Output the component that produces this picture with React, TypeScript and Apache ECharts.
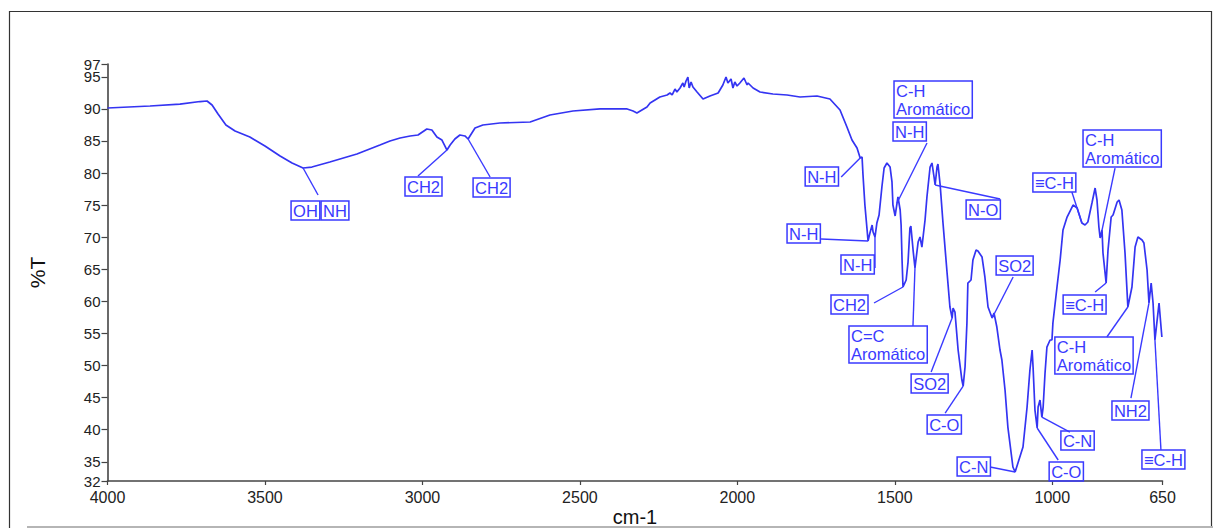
import React, { useEffect, useRef } from 'react';
import * as echarts from 'echarts';

// FTIR spectrum: wavenumber (cm-1) and transmittance (%T)
const wavenumber = [
  4000, 3865, 3770, 3706, 3684, 3668, 3649, 3624, 3595, 3548, 3500, 3452, 3414, 3379, 3351, 3294,
  3208, 3135, 3103, 3071, 3039, 3014, 2986, 2970, 2954, 2938, 2922, 2912, 2897, 2881, 2865, 2855,
  2833, 2808, 2754, 2658, 2595, 2522, 2436, 2350, 2331, 2319, 2287, 2277, 2246, 2223, 2214, 2207,
  2198, 2192, 2182, 2173, 2169, 2163, 2157, 2153, 2147, 2141, 2128, 2109, 2087, 2061, 2046, 2036,
  2030, 2020, 2014, 2008, 2001, 1992, 1979, 1969, 1966, 1950, 1928, 1887, 1842, 1801, 1747, 1706,
  1674, 1652, 1636, 1620, 1610, 1604, 1601, 1595, 1588, 1585, 1579, 1572, 1569, 1563, 1557, 1550,
  1541, 1534, 1525, 1515, 1509, 1506, 1499, 1493, 1490, 1483, 1480, 1477, 1474, 1464, 1458, 1452,
  1449, 1442, 1436, 1426, 1420, 1414, 1404, 1398, 1388, 1382, 1375, 1372, 1366, 1363, 1356, 1347,
  1334, 1325, 1318, 1315, 1309, 1299, 1287, 1283, 1277, 1271, 1268, 1258, 1252, 1242, 1236, 1223,
  1214, 1204, 1191, 1185, 1176, 1166, 1160, 1150, 1141, 1125, 1118, 1109, 1093, 1080, 1071, 1064,
  1061, 1055, 1048, 1045, 1039, 1033, 1029, 1023, 1017, 1007, 1001, 998, 985, 975, 966, 953,
  934, 921, 906, 896, 887, 874, 864, 858, 852, 848, 842, 839, 829, 823, 813, 807,
  794, 788, 779, 769, 760, 747, 737, 728, 715, 709, 699, 693, 686, 680, 674, 667,
  661, 652,
];

const transmittance = [
  90.14, 90.45, 90.76, 91.15, 91.23, 90.61, 89.21, 87.49, 86.56, 85.62, 84.22, 82.66, 81.57, 80.79, 80.94, 81.72,
  82.97, 84.37, 85.0, 85.46, 85.78, 85.93, 86.87, 86.71, 85.62, 85.15, 83.59, 84.37, 85.31, 85.93, 85.78, 85.31,
  87.02, 87.49, 87.8, 87.96, 89.05, 89.67, 89.99, 89.99, 89.67, 89.36, 90.3, 90.92, 91.86, 92.17, 92.48, 92.17,
  93.1, 92.64, 93.26, 94.04, 93.41, 94.35, 94.97, 93.26, 94.19, 93.41, 92.64, 91.54, 92.01, 92.48, 93.73, 94.97,
  94.04, 94.66, 93.26, 94.19, 93.57, 94.04, 94.82, 93.73, 94.04, 93.26, 92.64, 92.32, 92.17, 91.86, 92.01, 91.54,
  89.83, 87.18, 85.15, 83.91, 82.35, 82.5, 79.7, 75.02, 71.12, 69.41, 70.66, 71.9, 70.81, 70.03, 72.21, 73.46,
  77.83, 80.79, 81.57, 80.94, 78.61, 75.02, 73.31, 75.33, 76.27, 74.24, 71.9, 66.45, 62.24, 63.33, 66.13, 71.43,
  71.75, 68.0, 65.2, 69.25, 70.03, 68.47, 72.68, 76.27, 80.94, 81.57, 79.23, 78.14, 80.94, 81.41, 78.14, 72.21,
  64.42, 59.12, 57.4, 58.96, 58.34, 52.42, 47.74, 46.8, 49.77, 56.63, 62.86, 63.33, 66.45, 68.0, 67.85, 66.91,
  63.8, 59.12, 57.4, 58.18, 56.0, 52.42, 50.86, 46.18, 40.41, 34.18, 33.4, 34.8, 37.3, 43.53, 49.3, 52.42,
  49.77, 43.06, 40.26, 43.53, 44.62, 41.97, 43.53, 48.83, 52.88, 53.98, 53.98, 56.63, 62.24, 66.45, 71.12, 73.15,
  75.02, 74.55, 72.21, 71.9, 72.37, 75.33, 77.67, 75.8, 71.59, 69.88, 71.12, 67.54, 62.86, 68.0, 73.15, 73.46,
  75.49, 75.8, 74.24, 67.54, 59.12, 62.24, 68.47, 70.03, 69.56, 69.1, 64.89, 59.74, 62.86, 59.74, 53.98, 57.09,
  59.74, 54.44,
];

const xTicks = [4000, 3500, 3000, 2500, 2000, 1500, 1000, 650];
const yTicks = [32, 35, 40, 45, 50, 55, 60, 65, 70, 75, 80, 85, 90, 95];
const yTopTick = [97];

// Band assignments: label text and the wavenumber of the band it points to
const bandText = [
  'OH', 'NH', 'CH2', 'CH2', 'N-H', 'C-H\nAromático', 'N-H', 'N-O', 'N-H', 'N-H', 'CH2',
  'C=C\nAromático', 'SO2', 'C-O', 'SO2', 'C-N', 'C-O', 'C-N', '≡C-H', 'C-H\nAromático',
  '≡C-H', 'C-H\nAromático', 'NH2', '≡C-H',
];
const bandWavenumber = [
  3379, 3379, 2922, 2855, 1610, 1493, 1493, 1372, 1585, 1563, 1474,
  1436, 1318, 1283, 1191, 1118, 1048, 1033, 906, 842,
  829, 760, 693, 674,
];

// Callout placement (pixels, relative to the band point): box top-left and leader end
const calloutBox: [number, number][] = [
  [-12, 33], [18, 33], [-42, 27], [5, 39], [-55, 9], [-3, -122], [-4, -81], [31, 15], [-81, -17], [-34, 18], [-72, 8],
  [-66, 58], [-41, 56], [-36, 29], [4, -62], [-58, -15], [12, 34], [19, 14], [-49, -50], [-19, -100],
  [-43, 12], [-73, 30], [-37, 98], [-13, 110],
];
const calloutLead: ([number, number] | null)[] = [
  [15, 27], null, [-29, 26], [22, 38], [-19, 19], null, [30, -60], [65, 14], [-47, -2], [0, 31], [-29, 16],
  [-2, 58], [-21, 54], [-18, 27], [21, -41], [-25, -5], [21, 32], [28, 15], [-10, -31], [13, -62],
  [-11, 9], [-21, 30], [-18, 95], [6, 110],
];

const FONT = '"Liberation Sans", Arial, Helvetica, sans-serif';
const BLUE = '#3434f2';
const LABEL_BLUE = '#3a3aff';
const AXIS = '#444';

const yLabelStyle = {
  formatter: (v: number) => String(v),
  fontSize: 15,
  lineHeight: 10,
  color: '#222',
  fontFamily: FONT,
  margin: 7,
  showMinLabel: true,
  showMaxLabel: true,
};

export default function App() {
  const ref = useRef<HTMLDivElement>(null);

  useEffect(() => {
    if (!ref.current) return;
    const chart = echarts.init(ref.current, null, { renderer: 'svg' });
    const points = wavenumber.map((w, i) => [w, transmittance[i]]);

    chart.setOption({
      animation: false,
      backgroundColor: '#ffffff',
      grid: {
        left: 107.5,
        right: 50.5,
        top: 64,
        bottom: 47,
        containLabel: false,
        outerBoundsMode: 'none',
      },
      xAxis: {
        type: 'value',
        inverse: true,
        min: 650,
        max: 4000,
        name: 'cm-1',
        nameLocation: 'middle',
        nameGap: 26,
        nameMoveOverlap: false,
        nameTextStyle: { fontSize: 20, lineHeight: 20, color: '#111', fontFamily: FONT },
        axisLine: { show: true, lineStyle: { color: AXIS, width: 1.6 } },
        axisTick: { show: true, length: 4, customValues: xTicks, lineStyle: { color: AXIS, width: 1.2 } },
        axisLabel: {
          customValues: xTicks,
          formatter: (v: number) => String(v),
          fontSize: 16,
          color: '#222',
          fontFamily: FONT,
          margin: 8,
          showMinLabel: true,
          showMaxLabel: true,
        },
        splitLine: { show: false },
      },
      yAxis: [
        {
          type: 'value',
          min: 32,
          max: 97,
          name: '%T',
          nameLocation: 'middle',
          nameGap: 60,
          nameTextStyle: { fontSize: 21, color: '#111', fontFamily: FONT },
          axisLine: { show: true, lineStyle: { color: AXIS, width: 1.6 } },
          axisTick: { show: true, length: 6, customValues: yTicks, lineStyle: { color: AXIS, width: 1.2 } },
          axisLabel: { ...yLabelStyle, customValues: yTicks },
          splitLine: { show: false },
        },
        {
          // top end of the %T scale, labelled on its own so it sits flush with 95
          type: 'value',
          position: 'left',
          min: 32,
          max: 97,
          axisLine: { show: false },
          axisTick: { show: true, length: 6, customValues: yTopTick, lineStyle: { color: AXIS, width: 1.2 } },
          axisLabel: { ...yLabelStyle, customValues: yTopTick },
          splitLine: { show: false },
        },
      ],
      series: [
        {
          type: 'line',
          data: points,
          showSymbol: false,
          smooth: false,
          lineStyle: { color: BLUE, width: 1.7 },
          silent: true,
        },
      ],
    });

    // Callout boxes with leader lines, anchored to the spectrum points
    const lookup = (w: number) => {
      const i = wavenumber.indexOf(w);
      return [w, transmittance[i]];
    };
    const graphics: any[] = [
      {
        type: 'rect',
        shape: { x: 9.5, y: 11.5, width: 1202, height: 540 },
        style: { fill: 'none', stroke: '#333', lineWidth: 1.2 },
        silent: true,
      },
      {
        type: 'line',
        shape: { x1: 27, y1: 527, x2: 1213, y2: 527 },
        style: { stroke: '#b5b5b5', lineWidth: 2 },
        silent: true,
      },
    ];
    bandText.forEach((text, i) => {
      const p = chart.convertToPixel({ seriesIndex: 0 }, lookup(bandWavenumber[i])) as number[];
      const lead = calloutLead[i];
      if (lead) {
        graphics.push({
          type: 'line',
          shape: { x1: p[0], y1: p[1], x2: p[0] + lead[0], y2: p[1] + lead[1] },
          style: { stroke: LABEL_BLUE, lineWidth: 1.4 },
          z: 10,
          silent: true,
        });
      }
      graphics.push({
        type: 'text',
        x: p[0] + calloutBox[i][0],
        y: p[1] + calloutBox[i][1],
        z: 11,
        silent: true,
        style: {
          text,
          fill: LABEL_BLUE,
          fontSize: 16.5,
          fontFamily: FONT,
          lineHeight: 18,
          align: 'left',
          verticalAlign: 'top',
          padding: [1, 2, 0, 2],
          borderColor: LABEL_BLUE,
          borderWidth: 1.5,
        },
      });
    });
    chart.setOption({ graphic: graphics });

    return () => chart.dispose();
  }, []);

  return (
    <div
      ref={ref}
      style={{ position: 'fixed', left: 0, top: 0, width: 1213, height: 528, background: '#fff' }}
    />
  );
}
